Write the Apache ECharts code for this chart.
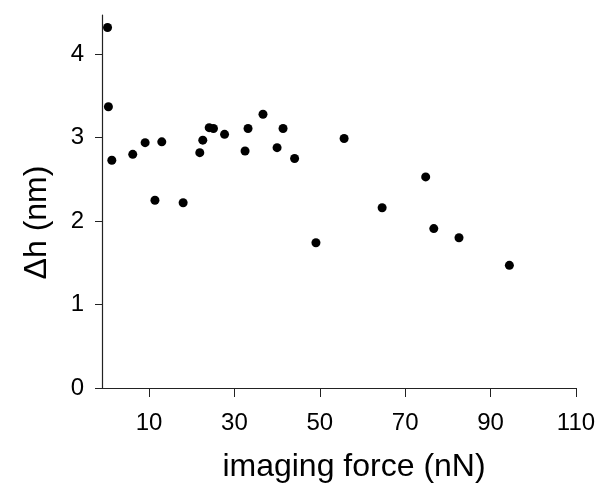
<!DOCTYPE html>
<html>
<head>
<meta charset="utf-8">
<script src="https://cdn.jsdelivr.net/npm/echarts@6/dist/echarts.min.js"></script>
<style>
  html, body { margin: 0; padding: 0; background: #fff; }
  #chart { width: 603px; height: 485px; }
</style>
</head>
<body>
<div id="chart"></div>
<script>
// imaging force (nN) vs height difference (nm)
var forceData = [0.3, 0.5, 1.3, 6.2, 9.1, 11.4, 13.0, 18.0, 21.9, 22.6, 24.1, 25.1, 27.7,
    32.5, 33.2, 36.7, 40.0, 41.4, 44.1, 49.1, 55.7, 64.6, 74.8, 76.7, 82.6, 94.4];
var heightData = [4.32, 3.37, 2.73, 2.80, 2.94, 2.25, 2.95, 2.22, 2.82, 2.97, 3.12, 3.11, 3.04,
    2.84, 3.11, 3.28, 2.88, 3.11, 2.75, 1.74, 2.99, 2.16, 2.53, 1.91, 1.80, 1.47];
var xTicks = [10, 30, 50, 70, 90, 110];
var yTicks = [0, 1, 2, 3, 4];

var points = [];
for (var i = 0; i < forceData.length; i++) {
    points.push([forceData[i], heightData[i]]);
}

var chart = echarts.init(document.getElementById('chart'));
var font = 'Liberation Sans, Arial, Helvetica, sans-serif';

var option = {
    backgroundColor: '#fff',
    animation: false,
    grid: { left: 102, right: 27, top: 15, bottom: 97, outerBoundsMode: 'none', containLabel: false },
    xAxis: {
        type: 'value',
        min: -1,
        max: 110,
        name: 'imaging force (nN)',
        nameLocation: 'middle',
        nameGap: 63,
        nameTextStyle: { color: '#000', fontSize: 32, fontFamily: font, padding: [0, 0, 0, 30] },
        splitLine: { show: false },
        axisLine: { onZero: false, lineStyle: { color: '#222', width: 1.2 } },
        axisTick: { customValues: xTicks, length: 9, lineStyle: { color: '#222' } },
        axisLabel: { customValues: xTicks, color: '#000', fontSize: 24, fontFamily: font, margin: 23 }
    },
    yAxis: {
        type: 'value',
        min: 0,
        max: 4.47,
        name: 'Δh (nm)',
        nameLocation: 'middle',
        nameGap: 49,
        nameTextStyle: { color: '#000', fontSize: 32, fontFamily: font, padding: [0, 42, 0, 0] },
        splitLine: { show: false },
        axisLine: { onZero: false, lineStyle: { color: '#222', width: 1.2 } },
        axisTick: { customValues: yTicks, length: 7, lineStyle: { color: '#222' } },
        axisLabel: { customValues: yTicks, color: '#000', fontSize: 24, fontFamily: font, margin: 18 }
    },
    series: [{
        type: 'scatter',
        data: points,
        symbol: 'circle',
        symbolSize: 9,
        itemStyle: { color: '#000', opacity: 1 }
    }]
};
chart.setOption(option);
</script>
</body>
</html>
